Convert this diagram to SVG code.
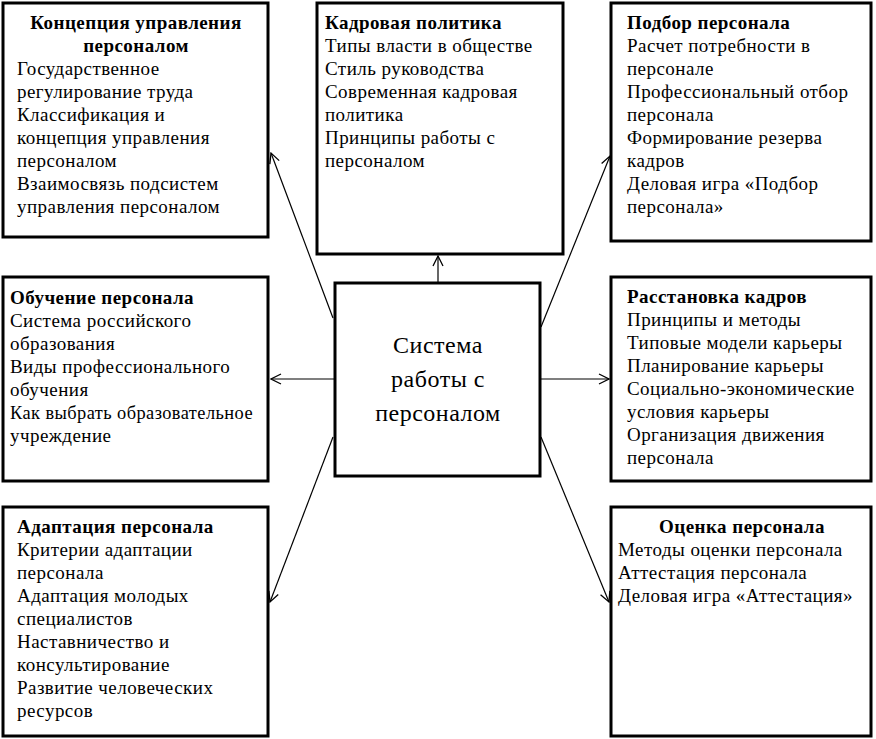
<svg xmlns="http://www.w3.org/2000/svg" width="876" height="739" viewBox="0 0 876 739">
<style>
.box{fill:#fff;stroke:#000;stroke-width:3}
text{font-family:'Liberation Serif','Times New Roman',serif;font-size:19px;letter-spacing:0.45px;fill:#000}
.b{font-weight:bold}
.c{text-anchor:middle}
.big{font-size:24px;letter-spacing:0.5px}
.con{stroke:#000;stroke-width:1.2;fill:none}
</style>
<defs>
<marker id="ah" markerWidth="12" markerHeight="12" refX="11" refY="6" orient="auto" markerUnits="userSpaceOnUse">
<path d="M1,1 L11,6 L1,11" fill="none" stroke="#000" stroke-width="1.3"/>
</marker>
</defs>
<g id="connectors">
<line class="con" x1="438" y1="283" x2="438" y2="256" marker-end="url(#ah)"/>
<line class="con" x1="333" y1="318" x2="271" y2="153" marker-end="url(#ah)"/>
<line class="con" x1="541" y1="327" x2="610" y2="156" marker-end="url(#ah)"/>
<line class="con" x1="335" y1="379" x2="271" y2="379" marker-end="url(#ah)"/>
<line class="con" x1="540" y1="379" x2="609" y2="379" marker-end="url(#ah)"/>
<line class="con" x1="333" y1="437" x2="270" y2="602" marker-end="url(#ah)"/>
<line class="con" x1="541" y1="437" x2="609" y2="602" marker-end="url(#ah)"/>
</g>
<g id="koncepciya">
<rect class="box" x="3" y="3" width="265" height="234"/>
<text class="b c" x="136" y="29">Концепция управления</text>
<text class="b c" x="136" y="52">персоналом</text>
<text x="17" y="75">Государственное</text>
<text x="17" y="98">регулирование труда</text>
<text x="17" y="121">Классификация и</text>
<text x="17" y="144">концепция управления</text>
<text x="17" y="167">персоналом</text>
<text x="17" y="190">Взаимосвязь подсистем</text>
<text x="17" y="213">управления персоналом</text>
</g>
<g id="kadrovaya">
<rect class="box" x="317" y="3" width="246" height="251"/>
<text class="b" x="325" y="29">Кадровая политика</text>
<text x="325" y="52">Типы власти в обществе</text>
<text x="325" y="75">Стиль руководства</text>
<text x="325" y="98">Современная кадровая</text>
<text x="325" y="121">политика</text>
<text x="325" y="144">Принципы работы с</text>
<text x="325" y="167">персоналом</text>
</g>
<g id="podbor">
<rect class="box" x="611" y="3" width="260" height="238"/>
<text class="b" x="627" y="29">Подбор персонала</text>
<text x="627" y="52">Расчет потребности в</text>
<text x="627" y="75">персонале</text>
<text x="627" y="98">Профессиональный отбор</text>
<text x="627" y="121">персонала</text>
<text x="627" y="144">Формирование резерва</text>
<text x="627" y="167">кадров</text>
<text x="627" y="190">Деловая игра «Подбор</text>
<text x="627" y="213">персонала»</text>
</g>
<g id="obuchenie">
<rect class="box" x="3" y="277" width="265" height="204"/>
<text class="b" x="10" y="304">Обучение персонала</text>
<text x="10" y="327">Система российского</text>
<text x="10" y="350">образования</text>
<text x="10" y="373">Виды профессионального</text>
<text x="10" y="396">обучения</text>
<text x="10" y="419" textLength="243" lengthAdjust="spacingAndGlyphs">Как выбрать образовательное</text>
<text x="10" y="442">учреждение</text>
</g>
<g id="sistema">
<rect class="box" x="335" y="283" width="205" height="193"/>
<text class="c big" x="438" y="353">Система</text>
<text class="c big" x="438" y="387">работы с</text>
<text class="c big" x="438" y="421">персоналом</text>
</g>
<g id="rasstanovka">
<rect class="box" x="611" y="277" width="260" height="204"/>
<text class="b" x="627" y="303">Расстановка кадров</text>
<text x="627" y="326">Принципы и методы</text>
<text x="627" y="349">Типовые модели карьеры</text>
<text x="627" y="372">Планирование карьеры</text>
<text x="627" y="395">Социально-экономические</text>
<text x="627" y="418">условия карьеры</text>
<text x="627" y="441">Организация движения</text>
<text x="627" y="464">персонала</text>
</g>
<g id="adaptaciya">
<rect class="box" x="3" y="507" width="265" height="229"/>
<text class="b" x="17" y="533">Адаптация персонала</text>
<text x="17" y="556">Критерии адаптации</text>
<text x="17" y="579">персонала</text>
<text x="17" y="602">Адаптация молодых</text>
<text x="17" y="625">специалистов</text>
<text x="17" y="648">Наставничество и</text>
<text x="17" y="671">консультирование</text>
<text x="17" y="694">Развитие человеческих</text>
<text x="17" y="717">ресурсов</text>
</g>
<g id="ocenka">
<rect class="box" x="611" y="507" width="260" height="229"/>
<text class="b c" x="742" y="533">Оценка персонала</text>
<text x="618" y="556">Методы оценки персонала</text>
<text x="618" y="579">Аттестация персонала</text>
<text x="618" y="602">Деловая игра «Аттестация»</text>
</g>
</svg>
